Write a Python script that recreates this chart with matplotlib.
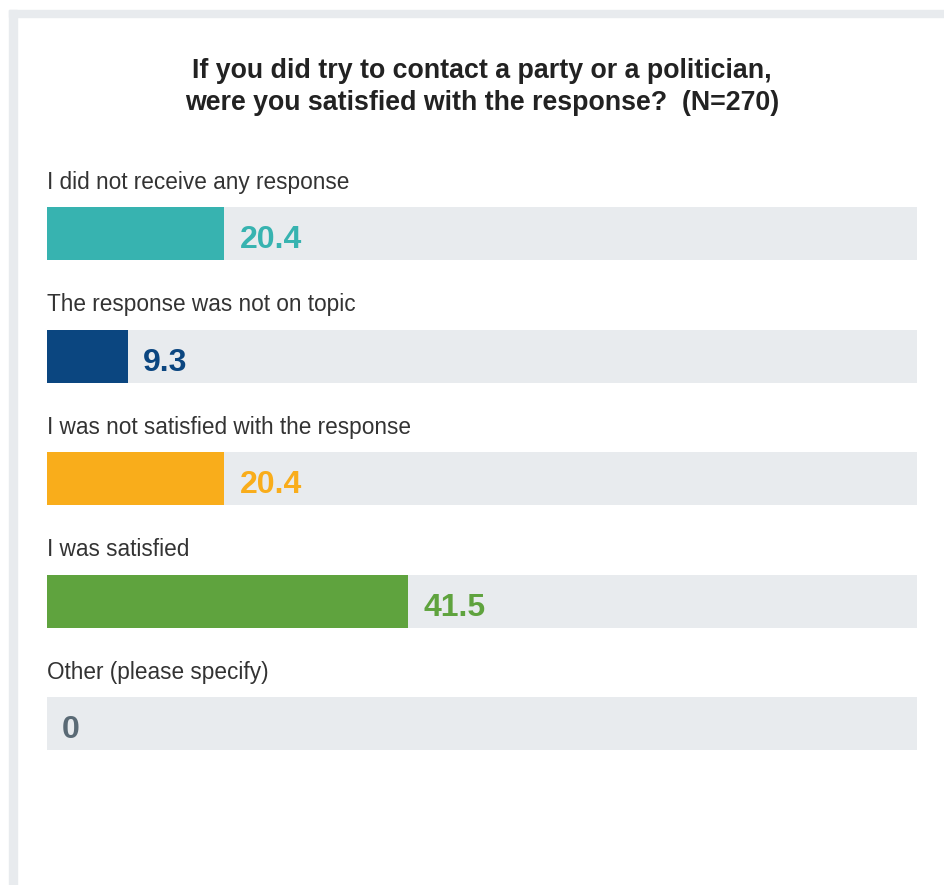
import matplotlib
matplotlib.use("Agg")
import matplotlib.pyplot as plt
from matplotlib.patches import Rectangle

categories = [
    "I did not receive any response",
    "The response was not on topic",
    "I was not satisfied with the response",
    "I was satisfied",
    "Other (please specify)",
]
values = [20.4, 9.3, 20.4, 41.5, 0]
value_labels = ["20.4", "9.3", "20.4", "41.5", "0"]
bar_colors = ["#37b3b0", "#0b4680", "#f9ad1b", "#5fa33e", "#5a6a75"]
title_lines = [
    "If you did try to contact a party or a politician,",
    "were you satisfied with the response?  (N=270)",
]

W, H = 944, 885
DPI = 100
PT = 72 / DPI  # points per pixel
fig = plt.figure(figsize=(W / DPI, H / DPI), dpi=DPI)
fig.patch.set_facecolor("white")

frame_color = "#e8ebee"
# card frame: top and left bands
fig.patches.append(Rectangle((9 / W, 1 - 17 / H), (W - 9) / W, 7 / H,
                             transform=fig.transFigure, color=frame_color, zorder=0))
fig.patches.append(Rectangle((9 / W, 0), 8 / W, 1 - 10 / H,
                             transform=fig.transFigure, color=frame_color, zorder=0))

for line, base in zip(title_lines, [78, 110]):
    fig.text(482 / W, 1 - base / H, line, ha="center", va="baseline",
             fontsize=19.3, fontweight="bold", color="#222222",
             family="Liberation Sans")

# axes spanning the bar tracks
x0, x1 = 47, 917
y_top, y_bot = 207, 750
ax = fig.add_axes([x0 / W, 1 - y_bot / H, (x1 - x0) / W, (y_bot - y_top) / H])
bar_h = 53 / 122.5
half = bar_h / 2
n = len(categories)
ax.set_xlim(0, 100)
ax.set_ylim(n - 1 + half, -half)
ax.axis("off")

ypos = list(range(n))
ax.barh(ypos, [100] * n, height=bar_h, color="#e8ebee", zorder=1)
ax.barh(ypos, values, height=bar_h, color=bar_colors, zorder=2)

for y, cat, v, lab, c in zip(ypos, categories, values, value_labels, bar_colors):
    ax.annotate(cat, xy=(0, y), xytext=(0, 45 * PT), textcoords="offset points",
                ha="left", va="baseline", fontsize=16.3,
                color="#333333", family="Liberation Sans")
    ax.annotate(lab, xy=(v, y), xytext=(15 * PT, -14.5 * PT), textcoords="offset points",
                ha="left", va="baseline", fontsize=23, fontweight="bold",
                color=c, family="Liberation Sans", zorder=3)

fig.savefig("out.png", dpi=DPI, facecolor="white")
